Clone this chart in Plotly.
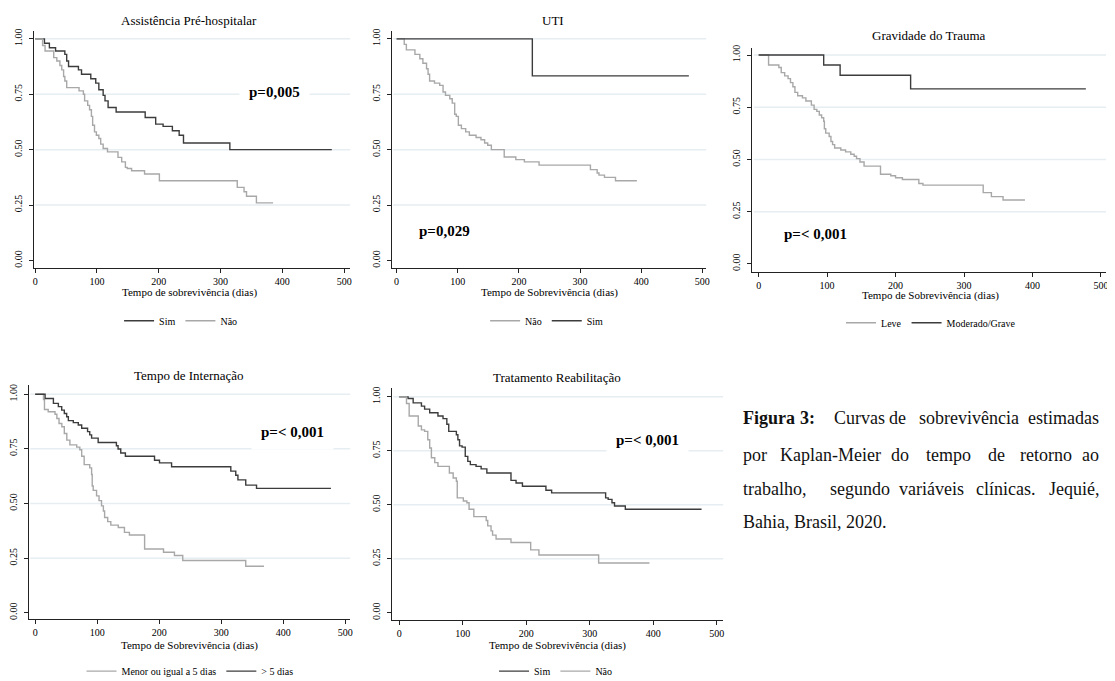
import plotly.graph_objects as go

W, H = 1115, 681

# ---------------- data ----------------
# Panel 1: Assistência Pré-hospitalar
p1_sim_t = [0, 15, 23, 33, 48, 51, 54, 70, 75, 90, 98, 103, 110, 113, 118, 131, 178, 195, 207, 222, 233, 240, 315, 480]
p1_sim_s = [1.0, 0.98, 0.96, 0.945, 0.93, 0.90, 0.875, 0.86, 0.84, 0.82, 0.80, 0.77, 0.745, 0.72, 0.69, 0.67, 0.645, 0.615, 0.605, 0.585, 0.565, 0.53, 0.50, 0.50]
p1_nao_t = [0, 12, 16, 30, 35, 40, 43, 46, 48, 51, 71, 78, 80, 85, 88, 91, 93, 96, 99, 103, 106, 110, 117, 134, 140, 146, 149, 156, 177, 201, 327, 338, 342, 358, 385]
p1_nao_s = [1.0, 0.97, 0.945, 0.915, 0.90, 0.88, 0.86, 0.83, 0.81, 0.78, 0.765, 0.75, 0.72, 0.70, 0.68, 0.65, 0.61, 0.58, 0.565, 0.55, 0.525, 0.505, 0.49, 0.465, 0.445, 0.42, 0.415, 0.405, 0.39, 0.36, 0.33, 0.31, 0.29, 0.26, 0.26]

# Panel 2: UTI
p2_nao_t = [0, 12.5, 16, 30, 38, 43, 49, 51.5, 54, 62, 70.5, 76, 80, 87, 91, 95, 97.6, 101, 106, 113, 119, 130, 138, 144, 149, 155, 176, 195, 209, 233, 317, 328, 331, 340, 358, 393]
p2_nao_s = [1.0, 0.975, 0.95, 0.93, 0.91, 0.89, 0.865, 0.84, 0.81, 0.80, 0.79, 0.76, 0.745, 0.73, 0.71, 0.66, 0.65, 0.61, 0.595, 0.58, 0.565, 0.555, 0.545, 0.53, 0.52, 0.50, 0.467, 0.455, 0.445, 0.43, 0.41, 0.395, 0.385, 0.375, 0.36, 0.36]
p2_sim_t = [0, 222, 478]
p2_sim_s = [1.0, 0.833, 0.833]

# Panel 3: Gravidade do Trauma
p3_leve_t = [0, 14.5, 29.5, 33, 38, 43, 46.5, 50, 53, 57, 64, 69, 77, 81, 85, 88.6, 92, 95, 96, 98, 103, 105.6, 108, 111, 120, 127, 134.6, 139.5, 143, 148, 154, 178, 193, 200, 210, 234, 240, 328, 340, 357, 389]
p3_leve_s = [1.0, 0.952, 0.94, 0.916, 0.90, 0.887, 0.868, 0.848, 0.821, 0.805, 0.795, 0.78, 0.76, 0.74, 0.73, 0.713, 0.70, 0.683, 0.647, 0.626, 0.61, 0.586, 0.571, 0.555, 0.545, 0.536, 0.525, 0.515, 0.504, 0.488, 0.468, 0.429, 0.422, 0.412, 0.404, 0.385, 0.377, 0.341, 0.322, 0.306, 0.306]
p3_grave_t = [0, 95, 119, 222, 478]
p3_grave_s = [1.0, 0.952, 0.903, 0.838, 0.838]

# Panel 4: Tempo de Internação
p4_menor_t = [0, 13.4, 15, 21, 32, 35, 38.5, 43, 47, 51, 56, 67, 72, 75, 79, 88, 91, 92, 93.6, 99, 103, 107, 110, 112, 117, 122, 134, 144, 152, 176.5, 207, 224.6, 238, 339.6, 369]
p4_menor_s = [1.0, 0.975, 0.93, 0.92, 0.908, 0.889, 0.866, 0.851, 0.82, 0.79, 0.768, 0.758, 0.746, 0.716, 0.678, 0.663, 0.633, 0.58, 0.56, 0.535, 0.513, 0.489, 0.466, 0.436, 0.417, 0.401, 0.39, 0.368, 0.356, 0.292, 0.277, 0.262, 0.239, 0.213, 0.213]
p4_maior_t = [0, 16, 29.4, 37.4, 42.8, 47, 50.8, 53.5, 61.5, 69.5, 75, 84.5, 88, 91, 101.6, 131, 133.7, 138, 145.5, 192.5, 200.5, 220, 315.5, 323.5, 327, 339.6, 357, 477]
p4_maior_s = [1.0, 0.98, 0.958, 0.943, 0.927, 0.912, 0.897, 0.879, 0.87, 0.859, 0.844, 0.829, 0.814, 0.799, 0.779, 0.764, 0.749, 0.731, 0.716, 0.698, 0.686, 0.668, 0.648, 0.629, 0.608, 0.584, 0.569, 0.569]

# Panel 5: Tratamento Reabilitação
p5_sim_t = [0, 14, 22, 35, 40, 48, 61, 69, 75, 78, 90, 92.4, 95, 99, 104, 108, 112, 121, 129, 138, 176, 184, 194, 231, 240, 325, 329, 335, 339, 356, 476]
p5_sim_s = [1.0, 0.992, 0.972, 0.957, 0.943, 0.926, 0.911, 0.899, 0.873, 0.84, 0.824, 0.801, 0.773, 0.767, 0.724, 0.701, 0.686, 0.678, 0.666, 0.647, 0.613, 0.601, 0.586, 0.567, 0.555, 0.532, 0.525, 0.509, 0.494, 0.479, 0.479]
p5_nao_t = [0, 11.5, 15.7, 30, 35, 40, 45, 48, 50.7, 56, 61, 79, 85, 90, 91.4, 101, 106.5, 110, 117.5, 137, 139.4, 144.6, 147, 152.5, 176, 207, 220, 314, 394]
p5_nao_s = [1.0, 0.969, 0.911, 0.865, 0.847, 0.84, 0.801, 0.763, 0.718, 0.695, 0.678, 0.647, 0.624, 0.609, 0.532, 0.517, 0.509, 0.479, 0.445, 0.427, 0.402, 0.379, 0.359, 0.341, 0.325, 0.291, 0.267, 0.23, 0.23]

titles = ["Assistência Pré-hospitalar", "UTI", "Gravidade do Trauma",
          "Tempo de Internação", "Tratamento Reabilitação"]
xtitles = ["Tempo de sobrevivência (dias)", "Tempo de Sobrevivência (dias)",
           "Tempo de Sobrevivência (dias)", "Tempo de Sobrevivência (dias)",
           "Tempo de Sobrevivência (dias)"]
pvalues = ["p=0,005", "p=0,029", "p=< 0,001", "p=< 0,001", "p=< 0,001"]
x_ticks = [0, 100, 200, 300, 400, 500]
y_ticks = [0, 0.25, 0.5, 0.75, 1.0]
y_ticklabels = ["0.00", "0.25", "0.50", "0.75", "1.00"]

caption_lines = [
    ["Figura", "3:", "Curvas", "de", "sobrevivência", "estimadas"],
    ["por", "Kaplan-Meier", "do", "tempo", "de", "retorno", "ao"],
    ["trabalho,", "segundo", "variáveis", "clínicas.", "Jequié,"],
    ["Bahia, Brasil, 2020."],
]

# ---------------- styling / layout ----------------
DARK = "#3c3c3c"
LIGHT = "#a8a8a8"
GRID = "#e6eef1"
FONT = "Liberation Serif"
OFF = 8  # the page body has an 8px default margin

def px_x(px):
    return (px - OFF) / W

def px_y(py):
    return 1 - (py - OFF) / H

# (left, right, top, bottom) in px, x range, y range
panel_geo = [
    dict(box=(31.7, 350, 28, 266.7), xr=(-2.6, 509.7), yr=(-0.033, 1.036)),
    dict(box=(391.7, 708, 28, 266.7), xr=(-8.1, 506.4), yr=(-0.033, 1.036)),
    dict(box=(754.3, 1110, 45, 270.7), xr=(-9.3, 507.5), yr=(-0.038, 1.035)),
    dict(box=(26.7, 350, 385, 620), xr=(-10.6, 508), yr=(-0.026, 1.041)),
    dict(box=(391.7, 725, 388, 621.7), xr=(-11.9, 510), yr=(-0.035, 1.04)),
]

series = [
    [("Sim", p1_sim_t, p1_sim_s, DARK), ("Não", p1_nao_t, p1_nao_s, LIGHT)],
    [("Não", p2_nao_t, p2_nao_s, LIGHT), ("Sim", p2_sim_t, p2_sim_s, DARK)],
    [("Leve", p3_leve_t, p3_leve_s, LIGHT), ("Moderado/Grave", p3_grave_t, p3_grave_s, DARK)],
    [("Menor ou igual a 5 dias", p4_menor_t, p4_menor_s, LIGHT), ("> 5 dias", p4_maior_t, p4_maior_s, DARK)],
    [("Sim", p5_sim_t, p5_sim_s, DARK), ("Não", p5_nao_t, p5_nao_s, LIGHT)],
]

title_pos = [(188, 18), (554, 18), (932, 33), (188, 375), (558, 377)]
xtitle_pos = [(188, 292), (550, 292), (933, 295), (188, 647), (558, 647)]
pval_pos = [(274, 90), (445, 230), (818, 233), (292, 432), (649, 440)]
legend_pos = [(180, 320), (548, 320), (934, 322), (189, 673), (557, 673)]

fig = go.Figure()
annotations = []
shapes = []
layout = dict(
    width=W, height=H, margin=dict(l=0, r=0, t=0, b=0),
    paper_bgcolor="white", plot_bgcolor="white",
    font=dict(family=FONT, color="black", size=10),
)

for i, geo in enumerate(panel_geo):
    n = i + 1
    sfx = "" if n == 1 else str(n)
    xa, ya = "x" + sfx, "y" + sfx
    lg = "legend" + sfx
    l, r, t, b = geo["box"]
    layout["xaxis" + sfx] = dict(
        domain=[px_x(l), px_x(r)], range=list(geo["xr"]), anchor=ya,
        tickvals=x_ticks, ticks="outside", ticklen=4, tickcolor="#222",
        showline=True, linecolor="#222", linewidth=1, showgrid=False,
        zeroline=False, tickfont=dict(size=10, family=FONT), fixedrange=True,
    )
    layout["yaxis" + sfx] = dict(
        domain=[px_y(b), px_y(t)], range=list(geo["yr"]), anchor=xa,
        tickvals=y_ticks, ticktext=y_ticklabels, tickangle=-90,
        ticks="outside", ticklen=4, tickcolor="#222", ticklabelstandoff=3,
        showline=True, linecolor="#222", linewidth=1, showgrid=False,
        zeroline=False, tickfont=dict(size=10, family=FONT), fixedrange=True,
    )
    # gridlines (no line at 0, as in the reference)
    for gv in y_ticks[1:]:
        shapes.append(dict(type="line", xref=xa + " domain", yref=ya,
                           x0=0.005, x1=1, y0=gv, y1=gv, layer="below",
                           line=dict(color=GRID, width=1.5)))
    for name, tt, ss, col in series[i]:
        fig.add_trace(go.Scatter(
            x=tt, y=ss, mode="lines", name=name, xaxis=xa, yaxis=ya,
            line=dict(color=col, width=1.4, shape="hv"), legend=lg,
            hoverinfo="skip",
        ))
    lx, ly = legend_pos[i]
    layout[lg] = dict(
        orientation="h", x=px_x(lx), y=px_y(ly), xanchor="center", yanchor="middle",
        font=dict(size=10, family=FONT), bgcolor="rgba(0,0,0,0)",
        itemwidth=30, tracegroupgap=0, traceorder="normal",
    )
    tx, ty = title_pos[i]
    annotations.append(dict(text=titles[i], x=px_x(tx), y=px_y(ty), xref="paper", yref="paper",
                            showarrow=False, xanchor="center", yanchor="middle",
                            font=dict(size=13, family=FONT)))
    xtx, xty = xtitle_pos[i]
    annotations.append(dict(text=xtitles[i], x=px_x(xtx), y=px_y(xty), xref="paper", yref="paper",
                            showarrow=False, xanchor="center", yanchor="middle",
                            font=dict(size=11, family=FONT)))
    pvx, pvy = pval_pos[i]
    annotations.append(dict(text="<b>" + pvalues[i] + "</b>", x=px_x(pvx), y=px_y(pvy),
                            xref="paper", yref="paper", showarrow=False,
                            xanchor="center", yanchor="middle", bgcolor="white", borderpad=9,
                            font=dict(size=15, family=FONT)))

# caption, justified: words placed at measured positions, last word right-aligned
caption_word_x = [
    [743, 800, 834, 890, 920, 1105],
    [743, 780, 892, 927, 989, 1021, 1105],
    [743, 830, 900, 977, 1105],
    [743],
]
caption_y = [418, 455, 490, 523]
for li, words in enumerate(caption_lines):
    for wi, word in enumerate(words):
        txt = "<b>" + word + "</b>" if li == 0 and wi < 2 else word
        last = (wi == len(words) - 1) and li < 3
        annotations.append(dict(text=txt, x=px_x(caption_word_x[li][wi]), y=px_y(caption_y[li]),
                                xref="paper", yref="paper", showarrow=False,
                                xanchor="right" if last else "left", yanchor="middle",
                                font=dict(size=18, family=FONT, color="#111")))

layout["annotations"] = annotations
layout["shapes"] = shapes
fig.update_layout(**layout)
fig.write_html("out.html")
